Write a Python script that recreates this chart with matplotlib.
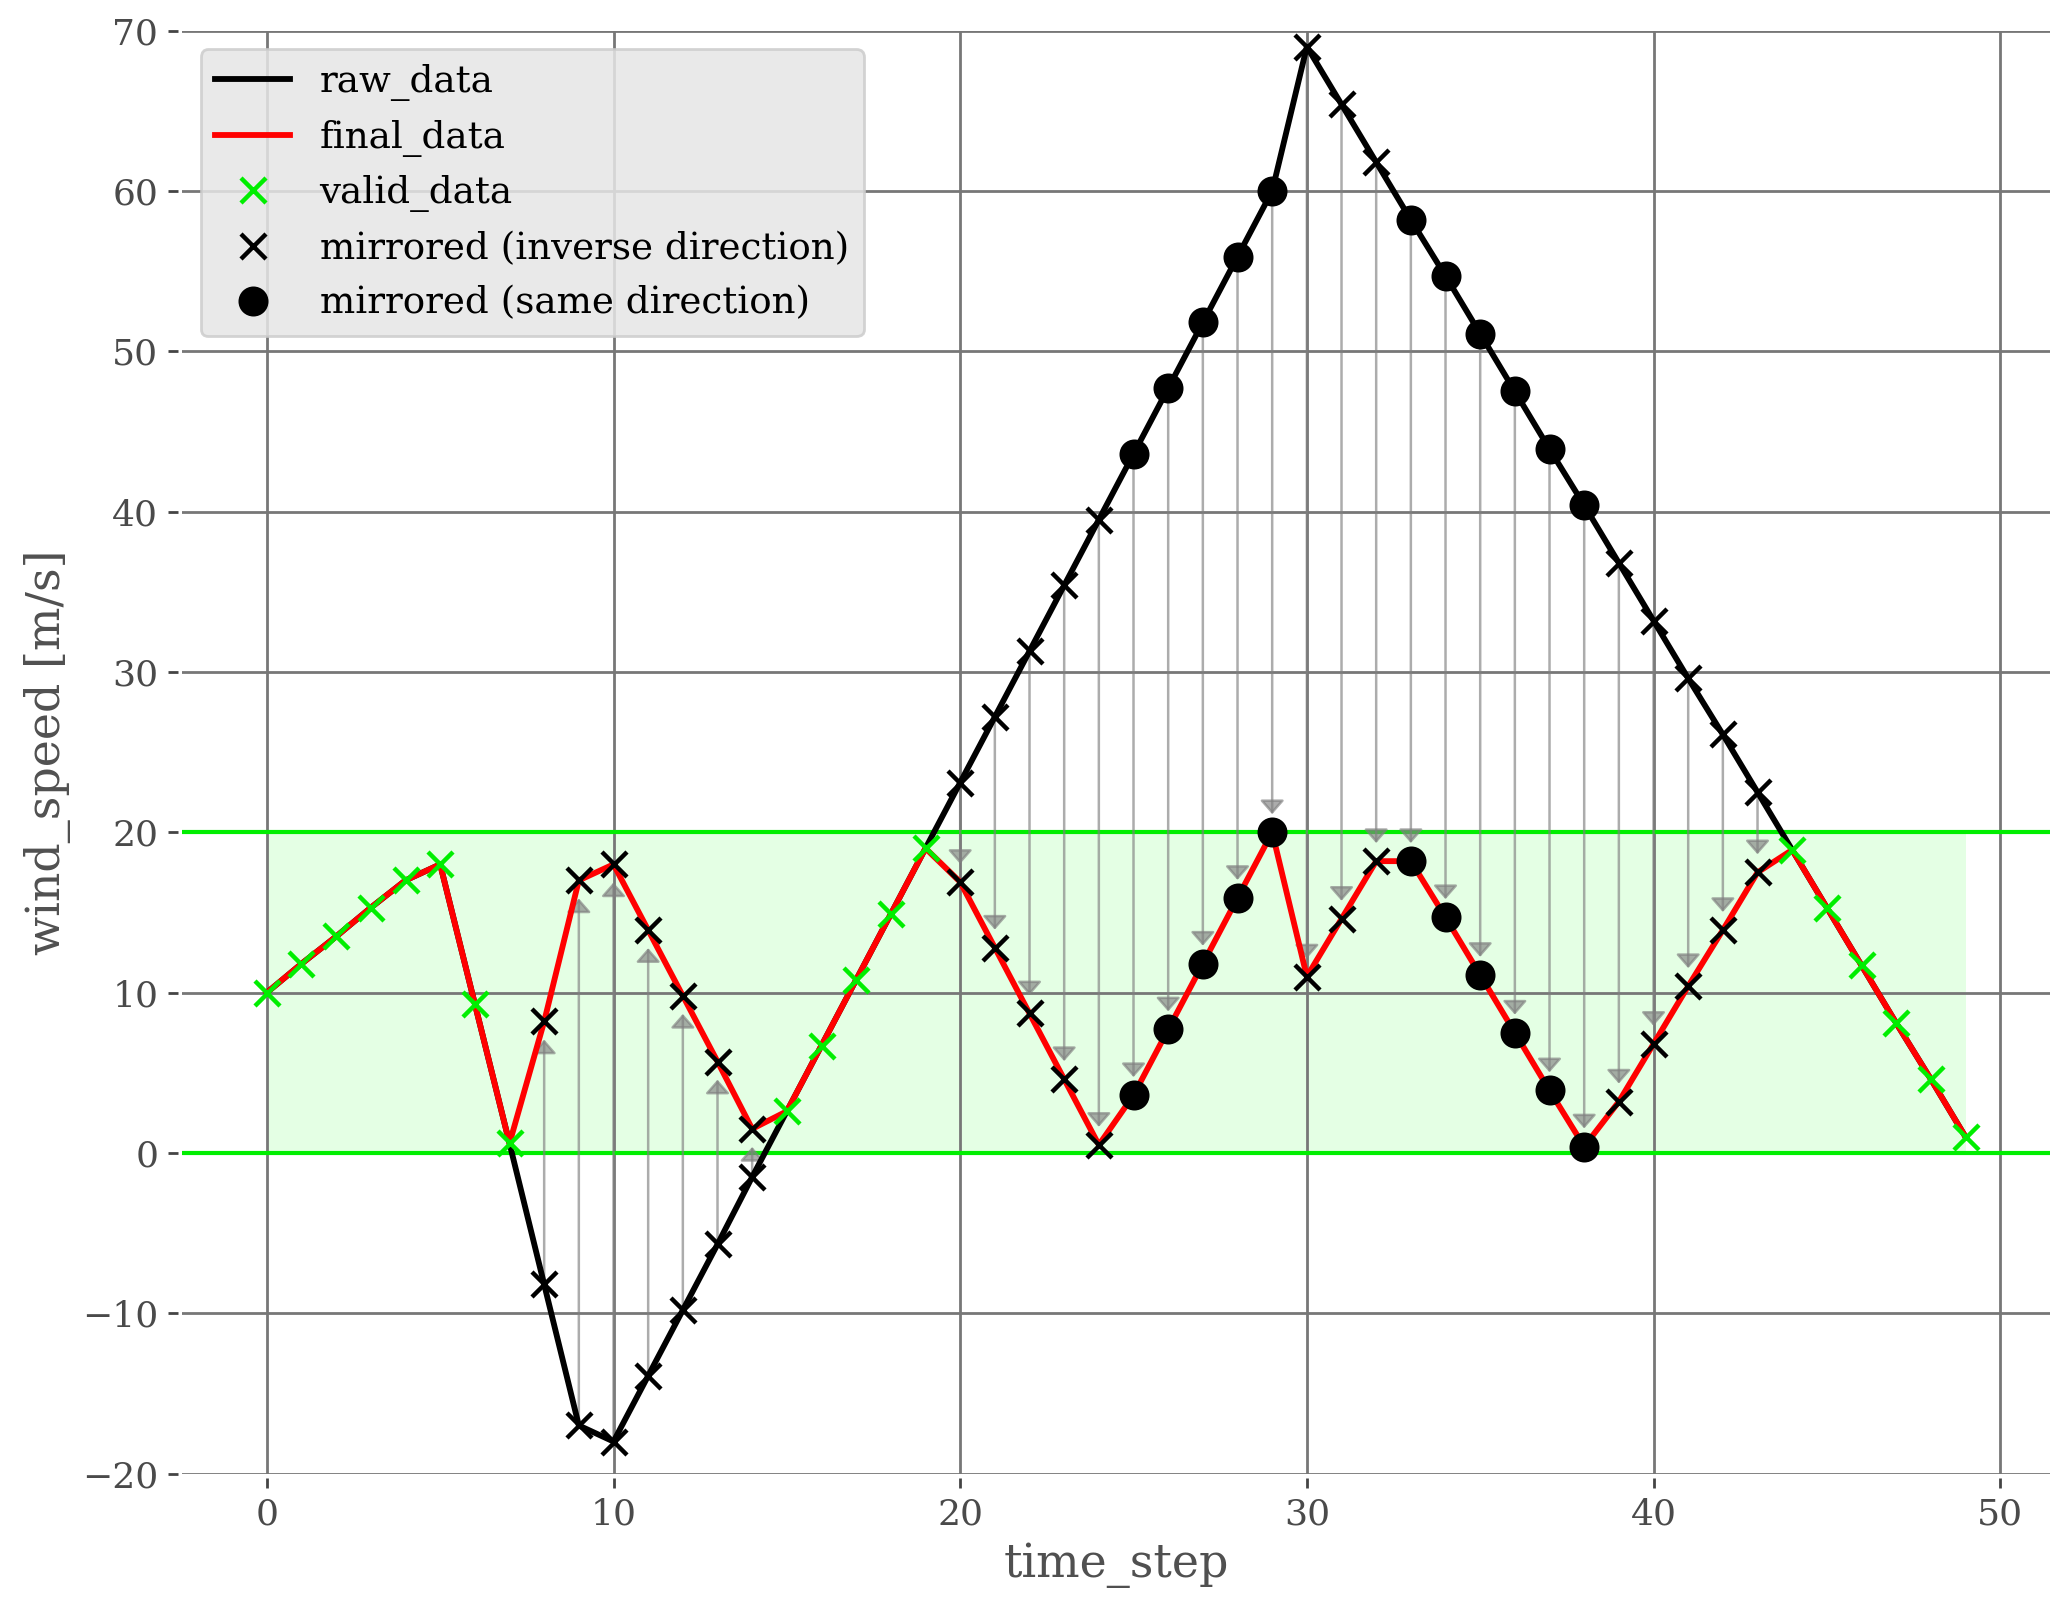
import matplotlib
matplotlib.use("Agg")
import matplotlib.pyplot as plt
import numpy as np

plt.rcParams['font.family'] = ['DejaVu Serif']

time_step = list(range(50))
raw_data = [10.0, 11.8, 13.5, 15.3, 17.0, 18.0, 9.3, 0.6, -8.2, -17.0,
            -18.0, -13.9, -9.8, -5.7, -1.5, 2.6, 6.7, 10.8, 14.9, 19.0,
            23.1, 27.2, 31.3, 35.4, 39.5, 43.6, 47.7, 51.8, 55.9, 60.0,
            69.0, 65.4, 61.8, 58.2, 54.7, 51.1, 47.5, 43.9, 40.4, 36.8,
            33.2, 29.6, 26.1, 22.5, 18.9, 15.3, 11.7, 8.1, 4.6, 1.0]
final_data = [10.0, 11.8, 13.5, 15.3, 17.0, 18.0, 9.3, 0.6, 8.2, 17.0,
              18.0, 13.9, 9.8, 5.7, 1.5, 2.6, 6.7, 10.8, 14.9, 19.0,
              16.9, 12.8, 8.7, 4.6, 0.5, 3.6, 7.7, 11.8, 15.9, 20.0,
              11.0, 14.6, 18.2, 18.2, 14.7, 11.1, 7.5, 3.9, 0.4, 3.2,
              6.8, 10.4, 13.9, 17.5, 18.9, 15.3, 11.7, 8.1, 4.6, 1.0]
valid_steps = [0, 1, 2, 3, 4, 5, 6, 7, 15, 16, 17, 18, 19, 44, 45, 46, 47, 48, 49]
inverse_steps = [8, 9, 10, 11, 12, 13, 14, 20, 21, 22, 23, 24, 30, 31, 32, 39, 40, 41, 42, 43]
same_steps = [25, 26, 27, 28, 29, 33, 34, 35, 36, 37, 38]
valid_range = [0, 20]

t = np.array(time_step)
raw = np.array(raw_data)
fin = np.array(final_data)

fig = plt.figure(figsize=(10.335, 8.07), dpi=200)
ax = fig.add_axes([0.088, 0.087, 0.904, 0.894])

# valid band
ax.fill_between([t[0], t[-1]], valid_range[0], valid_range[1],
                color='#33ff33', alpha=0.13, lw=0, zorder=1)
ax.axhline(valid_range[0], color='#00ee00', lw=1.5, zorder=1.6)
ax.axhline(valid_range[1], color='#00ee00', lw=1.5, zorder=1.6)

# arrows
for i in inverse_steps + same_steps:
    ax.annotate('', xy=(t[i], fin[i]), xytext=(t[i], raw[i]),
                arrowprops=dict(arrowstyle='-|>,head_width=0.37,head_length=0.42',
                                color='gray', alpha=0.65, lw=0.9,
                                shrinkA=0, shrinkB=6.5, mutation_scale=10),
                zorder=1.7)

ax.plot(t, raw, color='black', lw=2.1, label='raw_data', zorder=2)
ax.plot(t, fin, color='red', lw=2.1, label='final_data', zorder=2.1)

vi = np.array(valid_steps)
ii = np.array(inverse_steps)
si = np.array(same_steps)
ax.plot(t[vi], fin[vi], 'x', color='#00ee00', ms=9, mew=1.6, label='valid_data', zorder=3)
ax.plot(t[ii], fin[ii], 'x', color='black', ms=9, mew=1.6,
        label='mirrored (inverse direction)', zorder=3)
ax.plot(t[ii], raw[ii], 'x', color='black', ms=9, mew=1.6, zorder=3)
ax.plot(t[si], fin[si], 'o', color='black', ms=9.8, label='mirrored (same direction)', zorder=3)
ax.plot(t[si], raw[si], 'o', color='black', ms=9.8, zorder=3)

ax.set_ylim(-20, 70)
ax.set_yticks(range(-20, 71, 10))
ax.set_xticks(range(0, 51, 10))
ax.grid(True, color='#777777', lw=1.0)
for s in ax.spines.values():
    s.set_visible(False)
    s.set_position(('outward', 1.5))
ax.tick_params(direction='out', length=3.5, width=1, color='#444444',
               labelsize=13, labelcolor='#4a4a4a')
ax.set_xlabel('time_step', fontsize=16.5, color='#505050')
ax.set_ylabel('wind_speed [m/s]', fontsize=16.5, color='#505050')

leg = ax.legend(loc='upper left', fontsize=13.4, facecolor='#e6e6e6',
                edgecolor='#cccccc', framealpha=0.85, borderaxespad=0.5,
                labelspacing=0.5)

fig.savefig('out.png', dpi=200)
